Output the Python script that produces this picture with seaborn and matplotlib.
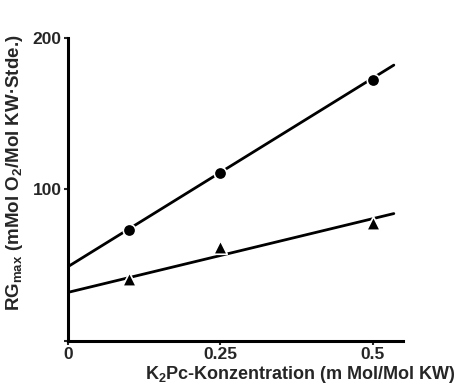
import matplotlib
matplotlib.use("Agg")
import matplotlib.pyplot as plt
import seaborn as sns

# Messpunkte
konz = [0.1, 0.25, 0.5]
rg_kreis = [73, 111, 172]
rg_dreieck = [41, 62, 78]

linie_x = [0, 0.535]
linie_kreis = [49, 182]
linie_dreieck = [32, 84]

x_ticks = [0, 0.25, 0.5]
x_ticklabels = ["0", "0.25", "0.5"]
y_ticks = [0, 100, 200]
y_ticklabels = ["", "100", "200"]

sns.set_style("ticks")
plt.rcParams['font.family'] = ['Liberation Sans', 'DejaVu Sans']
plt.rcParams['font.weight'] = 'bold'
plt.rcParams['mathtext.fontset'] = 'custom'
plt.rcParams['mathtext.rm'] = 'Liberation Sans:bold'
plt.rcParams['mathtext.it'] = 'Liberation Sans:bold'
plt.rcParams['mathtext.bf'] = 'Liberation Sans:bold'

fig = plt.figure(figsize=(4.6, 3.86), dpi=100)
ax = fig.add_axes([0.148, 0.117, 0.728, 0.785])

# Geraden
sns.lineplot(x=linie_x, y=linie_kreis, ax=ax, color='black', linewidth=2, zorder=2)
sns.lineplot(x=linie_x, y=linie_dreieck, ax=ax, color='black', linewidth=2, zorder=2)

# Punkte
sns.scatterplot(x=konz, y=rg_kreis, ax=ax, marker='o', s=80, color='black',
                edgecolor='white', linewidth=1.2, zorder=3)
sns.scatterplot(x=konz, y=rg_dreieck, ax=ax, marker='^', s=95, color='black',
                edgecolor='white', linewidth=1.2, zorder=3)

ax.set_xlim(0, 0.55)
ax.set_ylim(0, 200)
ax.set_xticks(x_ticks)
ax.set_xticklabels(x_ticklabels)
ax.set_yticks(y_ticks)
ax.set_yticklabels(y_ticklabels)
ax.tick_params(axis='both', length=3, width=1.5, pad=1.5, labelsize=12.5)
for lbl in ax.get_xticklabels() + ax.get_yticklabels():
    lbl.set_fontweight('bold')

sns.despine(ax=ax)
for s in ['left', 'bottom']:
    ax.spines[s].set_linewidth(2.2)
    ax.spines[s].set_color('black')

ax.set_xlabel("K$_2$Pc-Konzentration (m Mol/Mol KW)", fontsize=13, fontweight='bold')
ax.xaxis.set_label_coords(0.695, -0.075)
ax.set_ylabel("RG$_{max}$ (mMol O$_2$/Mol KW·Stde.)", fontsize=13.5, fontweight='bold')
ax.yaxis.set_label_coords(-0.13, 0.555)

fig.savefig("out.png", dpi=100, facecolor='white')
